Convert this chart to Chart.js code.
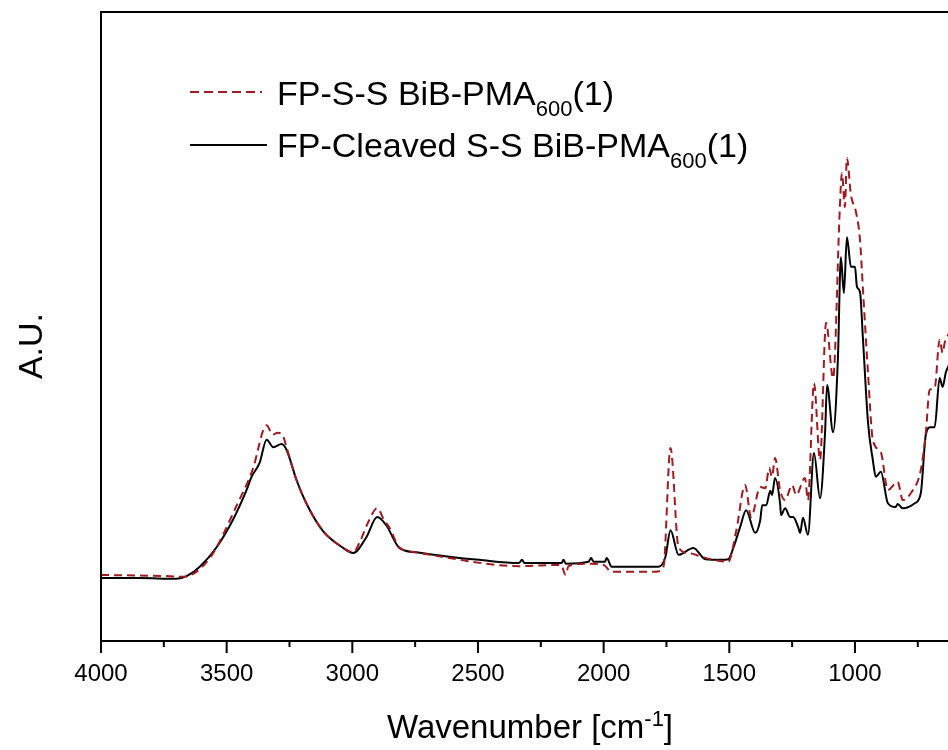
<!DOCTYPE html>
<html>
<head>
<meta charset="utf-8">
<script src="https://cdn.jsdelivr.net/npm/chart.js@4.4.1/dist/chart.umd.min.js"></script>
<style>
    html, body { margin: 0; padding: 0; background: #fff; overflow: hidden; }
</style>
</head>
<body>
<canvas id="ftirChart" width="1020" height="750"></canvas>
<script>
// FP-Cleaved S-S BiB-PMA600(1)
const wnCleaved = [4000, 3850, 3700, 3659, 3607, 3540, 3476, 3421, 3401, 3369, 3341, 3314, 3282, 3262, 3222, 3183, 3119, 3040, 2996, 2944,
    2901, 2865, 2813, 2746, 2615, 2496, 2337, 2325, 2315, 2167, 2160, 2150, 2060, 2050, 2040, 1995, 1988, 1968, 1861, 1782,
    1754, 1734, 1702, 1643, 1595, 1532, 1504, 1484, 1457, 1433, 1397, 1377, 1369, 1353, 1337, 1330, 1318, 1298, 1294, 1278,
    1258, 1246, 1226, 1218, 1207, 1187, 1163, 1139, 1119, 1111, 1087, 1068, 1056, 1044, 1032, 1016, 1000, 992, 980, 968,
    948, 929, 917, 897, 869, 838, 830, 810, 762, 738, 718, 699, 683, 663, 651, 639, 625];
const auCleaved = [10.0, 10.0, 9.9, 10.3, 11.8, 14.9, 19.2, 24.0, 26.1, 28.3, 32.0, 30.8, 31.3, 30.4, 25.6, 21.9, 17.6, 14.9, 14.0, 16.5,
    19.7, 18.4, 14.8, 14.1, 13.4, 12.9, 12.4, 12.9, 12.4, 12.4, 12.9, 12.3, 12.6, 13.2, 12.6, 12.6, 13.2, 11.8, 11.8, 11.8,
    13.4, 17.6, 13.7, 14.8, 13.0, 12.9, 13.0, 14.8, 18.1, 20.8, 17.2, 19.2, 21.6, 21.6, 23.9, 23.2, 25.9, 21.9, 20.0, 21.1,
    19.7, 19.7, 18.1, 17.2, 19.6, 16.9, 29.9, 22.7, 33.1, 40.7, 33.2, 44.7, 61.0, 55.3, 64.2, 59.5, 59.5, 56.3, 55.5, 47.9,
    34.7, 28.8, 26.1, 26.9, 21.9, 21.3, 21.8, 21.1, 21.9, 23.5, 32.8, 34.0, 34.0, 41.8, 40.4, 42.6, 44.0];

// FP-S-S BiB-PMA600(1)
const wnSS = [4000, 3726, 3675, 3567, 3456, 3397, 3341, 3317, 3298, 3278, 3262, 3222, 3183, 3119, 3040, 2996, 2972, 2933, 2901, 2873,
    2853, 2813, 2746, 2615, 2429, 2337, 2170, 2151, 2140, 2060, 2000, 1968, 1794, 1762, 1734, 1702, 1663, 1595, 1504, 1472,
    1437, 1413, 1377, 1357, 1341, 1330, 1318, 1298, 1278, 1250, 1234, 1199, 1187, 1163, 1139, 1115, 1087, 1060, 1052, 1040,
    1032, 1016, 996, 980, 968, 948, 929, 897, 869, 830, 810, 778, 738, 718, 703, 683, 663, 651, 643, 625];
const auSS = [10.5, 10.3, 10.2, 13.2, 21.9, 27.2, 34.3, 32.8, 33.1, 32.8, 30.8, 25.6, 21.9, 17.6, 14.9, 14.1, 15.6, 19.2, 21.1, 19.2,
    18.1, 14.9, 14.1, 13.2, 12.1, 11.9, 12.1, 10.5, 11.9, 12.3, 12.1, 11.0, 11.0, 11.8, 30.7, 14.9, 14.0, 13.2, 12.6, 17.6,
    24.8, 19.7, 24.5, 24.3, 27.5, 26.1, 29.1, 24.0, 22.4, 24.8, 23.2, 25.9, 22.4, 41.0, 28.8, 50.6, 41.8, 69.0, 74.4, 69.0,
    76.8, 70.9, 68.2, 63.8, 55.8, 42.6, 32.0, 30.0, 24.0, 25.3, 22.4, 23.5, 27.2, 33.1, 39.9, 40.2, 47.9, 45.8, 47.4, 49.0];

const xMajorTicks = [4000, 3500, 3000, 2500, 2000, 1500, 1000, 500];
const xMinorTicks = [3750, 3250, 2750, 2250, 1750, 1250, 750];

const red = '#a01a1f';
const font = '"Liberation Sans", Arial, sans-serif';

function toPoints(xs, ys) {
    return xs.map((x, i) => ({ x: x, y: ys[i] }));
}

function drawRich(ctx, parts, x, y) {
    for (const p of parts) {
        ctx.font = p.size + 'px ' + font;
        ctx.fillText(p.text, x, y + p.dy);
        x += ctx.measureText(p.text).width;
    }
}

function richWidth(ctx, parts) {
    let w = 0;
    for (const p of parts) {
        ctx.font = p.size + 'px ' + font;
        w += ctx.measureText(p.text).width;
    }
    return w;
}

const decorations = {
    id: 'decorations',
    afterDraw(chart) {
        const { ctx, chartArea: a, scales: { x } } = chart;
        ctx.save();

        // frame + ticks
        ctx.strokeStyle = '#000';
        ctx.lineWidth = 2;
        ctx.strokeRect(a.left, a.top, a.right - a.left, a.bottom - a.top);
        ctx.beginPath();
        xMajorTicks.forEach(v => {
            const px = x.getPixelForValue(v);
            ctx.moveTo(px, a.bottom);
            ctx.lineTo(px, a.bottom + 12);
        });
        xMinorTicks.forEach(v => {
            const px = x.getPixelForValue(v);
            ctx.moveTo(px, a.bottom);
            ctx.lineTo(px, a.bottom + 6);
        });
        ctx.stroke();

        // legend
        ctx.lineWidth = 2;
        ctx.strokeStyle = red;
        ctx.setLineDash([9, 5]);
        ctx.beginPath();
        ctx.moveTo(190, 92);
        ctx.lineTo(262, 92);
        ctx.stroke();
        ctx.setLineDash([]);
        ctx.strokeStyle = '#000';
        ctx.beginPath();
        ctx.moveTo(190, 145);
        ctx.lineTo(267, 145);
        ctx.stroke();

        ctx.fillStyle = '#000';
        ctx.textAlign = 'left';
        ctx.textBaseline = 'alphabetic';
        drawRich(ctx, [
            { text: 'FP-S-S BiB-PMA', size: 34, dy: 0 },
            { text: '600', size: 22, dy: 11 },
            { text: '(1)', size: 34, dy: 0 }
        ], 277, 105);
        drawRich(ctx, [
            { text: 'FP-Cleaved S-S BiB-PMA', size: 34, dy: 0 },
            { text: '600', size: 22, dy: 11 },
            { text: '(1)', size: 34, dy: 0 }
        ], 277, 157);

        // x title
        const xTitle = [
            { text: 'Wavenumber [cm', size: 33, dy: 0 },
            { text: '-1', size: 22, dy: -12 },
            { text: ']', size: 33, dy: 0 }
        ];
        drawRich(ctx, xTitle, 530 - richWidth(ctx, xTitle) / 2, 738);

        // y title
        ctx.translate(42, 346);
        ctx.rotate(-Math.PI / 2);
        ctx.textAlign = 'center';
        ctx.font = '34px ' + font;
        ctx.fillText('A.U.', 0, 0);

        ctx.restore();
    }
};

const chart = new Chart(document.getElementById('ftirChart'), {
    type: 'line',
    data: {
        datasets: [
            {
                label: 'FP-S-S BiB-PMA600(1)',
                data: toPoints(wnSS, auSS),
                borderColor: red,
                borderWidth: 2,
                borderDash: [8, 5],
                pointRadius: 0,
                fill: false,
                cubicInterpolationMode: 'monotone'
            },
            {
                label: 'FP-Cleaved S-S BiB-PMA600(1)',
                data: toPoints(wnCleaved, auCleaved),
                borderColor: '#000',
                borderWidth: 2,
                pointRadius: 0,
                fill: false,
                cubicInterpolationMode: 'monotone'
            }
        ]
    },
    options: {
        responsive: false,
        animation: false,
        devicePixelRatio: 1,
        layout: {
            padding: { top: 12, right: 13, left: 0, bottom: 0 }
        },
        plugins: {
            legend: { display: false },
            tooltip: { enabled: false }
        },
        scales: {
            x: {
                type: 'linear',
                reverse: true,
                min: 400,
                max: 4000,
                grid: { display: false, drawTicks: false },
                border: { display: false },
                afterBuildTicks: scale => {
                    scale.ticks = xMajorTicks.map(v => ({ value: v }));
                },
                afterFit: scale => {
                    scale.height = 109;
                },
                ticks: {
                    color: '#000',
                    padding: 19,
                    maxRotation: 0,
                    autoSkip: false,
                    font: { family: font, size: 24 },
                    callback: v => String(v)
                }
            },
            y: {
                type: 'linear',
                min: 0,
                max: 100,
                grid: { display: false, drawTicks: false },
                border: { display: false },
                ticks: { display: false },
                afterFit: scale => {
                    scale.width = 101;
                }
            }
        }
    },
    plugins: [decorations]
});
</script>
</body>
</html>
